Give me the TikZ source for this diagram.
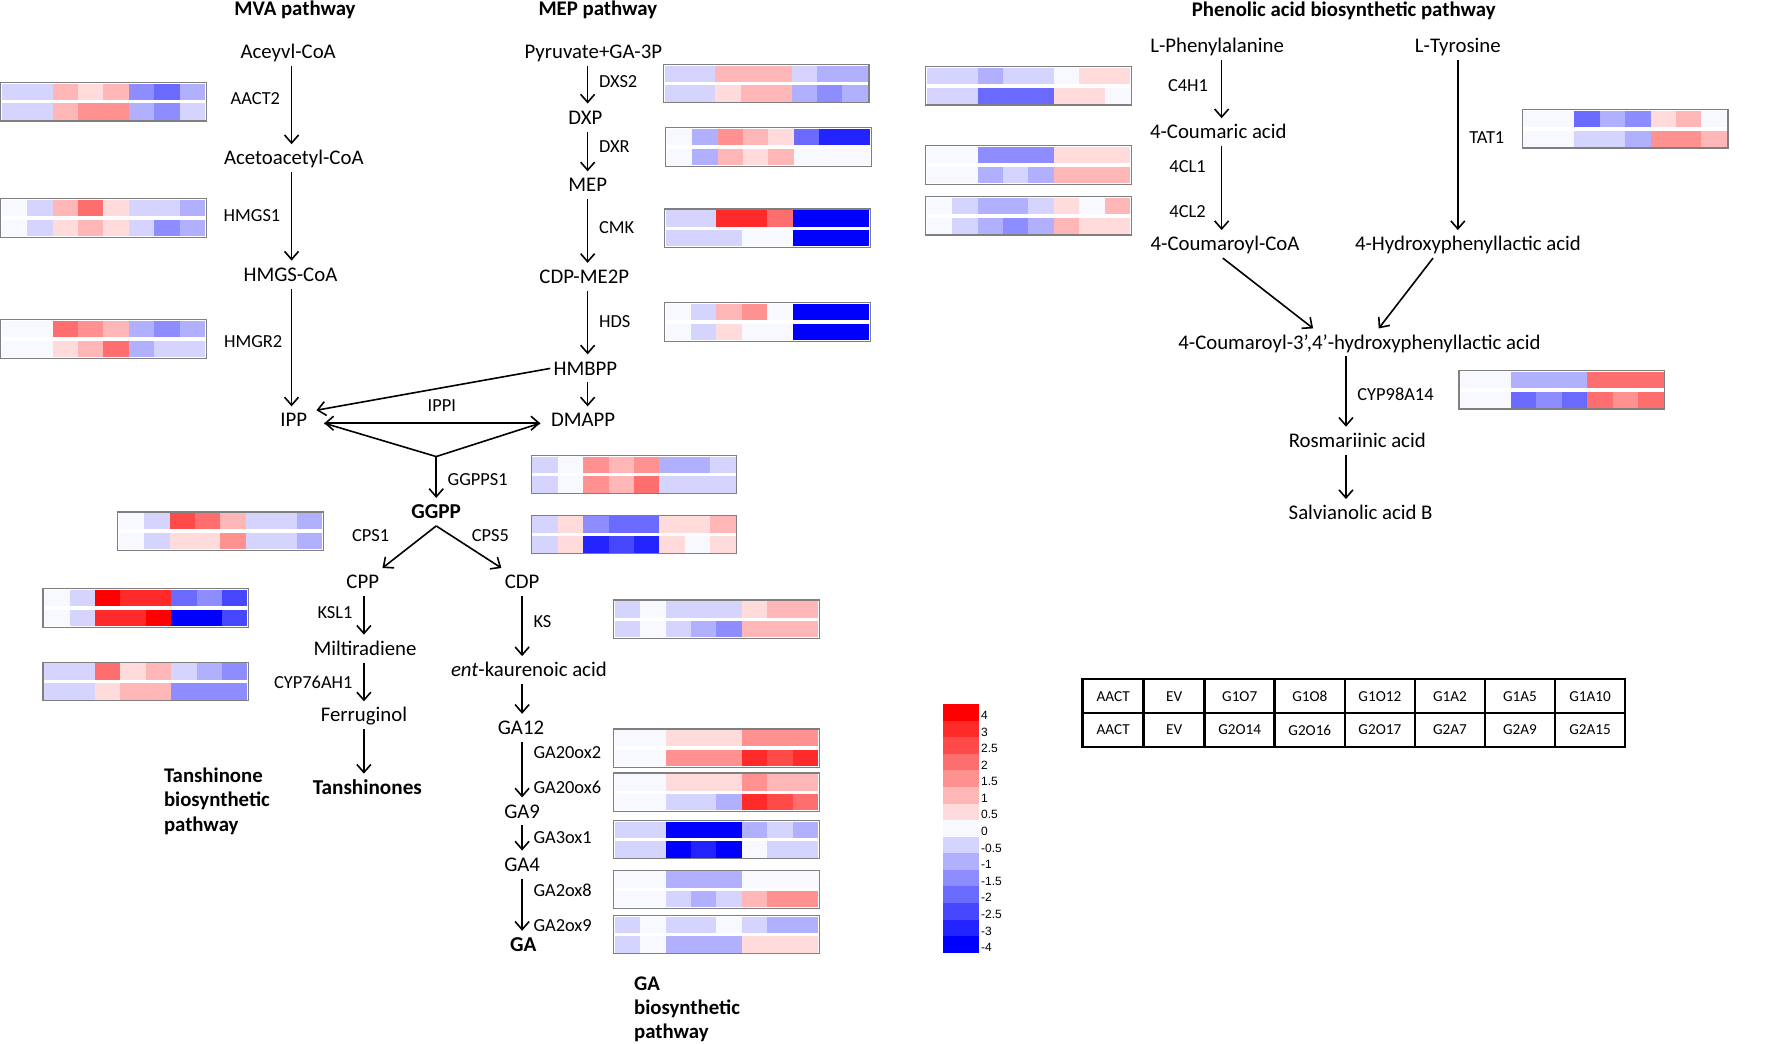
\documentclass[tikz,border=0pt]{standalone}
\usepackage{fontspec}
\setmainfont{Carlito}
\newfontfamily\legfont{Liberation Sans}
\usetikzlibrary{arrows.meta}
\definecolor{R8}{HTML}{FF0000}
\definecolor{R6}{HTML}{FF2A2A}
\definecolor{R5}{HTML}{FF4A4A}
\definecolor{R4}{HTML}{FF6E6E}
\definecolor{R3}{HTML}{FF9191}
\definecolor{R2}{HTML}{FFB6B6}
\definecolor{R1}{HTML}{FFDBDB}
\definecolor{Z}{HTML}{F8F8FF}
\definecolor{B1}{HTML}{D4D4FF}
\definecolor{B2}{HTML}{B0B0FF}
\definecolor{B3}{HTML}{8D8DFF}
\definecolor{B4}{HTML}{6A6AFF}
\definecolor{B5}{HTML}{4747FF}
\definecolor{B6}{HTML}{2323FF}
\definecolor{B8}{HTML}{0000FF}
\definecolor{hmgray}{HTML}{7F7F7F}
\newcommand\hmap[4]{%
  \foreach \hc [count=\hi from 0] in {#3} \fill[fill=\hc] ({#1+1+\hi*22.5},{#2+1}) rectangle ++(22.5,14.5);
  \foreach \hc [count=\hi from 0] in {#4} \fill[fill=\hc] ({#1+1+\hi*22.5},{#2+18.5}) rectangle ++(22.5,14.5);
  \draw[hmborder] (#1,#2) rectangle ++(182,34);
}
\tikzset{
  met/.style={font=\fontsize{10.4}{12}\selectfont, inner sep=1.5pt, text height=8.6pt, text depth=2pt},
  metb/.style={met, font=\bfseries\fontsize{10.6}{12}\selectfont},
  enz/.style={font=\fontsize{9.2}{11}\selectfont, inner sep=1pt},
  ttl/.style={font=\bfseries\fontsize{10.4}{12}\selectfont, inner sep=1pt},
  arr/.style={-{Straight Barb[length=4pt,width=7pt]}, line width=0.8pt},
  arrtwo/.style={{Straight Barb[length=4pt,width=7pt]}-{Straight Barb[length=4pt,width=7pt]}, line width=0.8pt},
  plain/.style={line width=0.8pt},
  hmborder/.style={draw=hmgray, line width=0.6pt},
  leg/.style={font=\legfont\fontsize{6}{7}\selectfont, inner sep=0.5pt},
  tbl/.style={line width=1.3pt},
  tcell/.style={font=\fontsize{7.6}{9}\selectfont, inner sep=0pt}
}
\begin{document}
\begin{tikzpicture}[x=0.5651pt,y=-0.5651pt]
\useasboundingbox (0,0) rectangle (1568,923);

% titles
\node[ttl] (mvat) at (261,9) {MVA pathway};
\node[ttl] (mept) at (529,9) {MEP pathway};
\node[ttl] (phent) at (1189,10) {Phenolic acid biosynthetic pathway};

% MVA pathway
\coordinate (mvax) at (258,0);
\node[met] (aceyvl) at (255,46) {Aceyvl-CoA};
\node[met] (acetoac) at (260,140) {Acetoacetyl-CoA};
\node[met] (hmgscoa) at (257,243) {HMGS-CoA};
\node[met] (ipp) at (260,372) {IPP};
\node[enz] (aact2) at (226,87) {AACT2};
\node[enz] (hmgs1) at (223,191) {HMGS1};
\node[enz] (hmgr2) at (224,302) {HMGR2};
\draw[arr] (aceyvl.south -| mvax) -- (acetoac.north -| mvax);
\draw[arr] (acetoac.south -| mvax) -- (hmgscoa.north -| mvax);
\draw[arr] (hmgscoa.south -| mvax) -- (ipp.north -| mvax);

% MEP pathway
\coordinate (mepx) at (520,0);
\node[met] (pyr) at (525,46) {Pyruvate+GA-3P};
\node[met] (dxp) at (518,104) {DXP};
\node[met] (mep) at (520,164) {MEP};
\node[met] (cdpme) at (517,245) {CDP-ME2P};
\node[met] (hmbpp) at (518,326) {HMBPP};
\node[met] (dmapp) at (516,372) {DMAPP};
\node[enz, anchor=west] (dxs2) at (528,72) {DXS2};
\node[enz, anchor=west] (dxr) at (528,130) {DXR};
\node[enz, anchor=west] (cmk) at (528,201) {CMK};
\node[enz, anchor=west] (hds) at (528,285) {HDS};
\draw[arr] (pyr.south -| mepx) -- (dxp.north -| mepx);
\draw[arr] (dxp.south -| mepx) -- (mep.north -| mepx);
\draw[arr] (mep.south -| mepx) -- (cdpme.north -| mepx);
\draw[arr] (cdpme.south -| mepx) -- (hmbpp.north -| mepx);
\draw[arr] (hmbpp.south -| mepx) -- (dmapp.north -| mepx);

% IPP / DMAPP / GGPP
\coordinate (ippE) at (287,374.5);
\coordinate (ippNE) at (280,363);
\coordinate (dmappW) at (478,374.5);
\coordinate (vj) at (386,404);
\node[enz] (ippi) at (391,359) {IPPI};
\draw[arr] (hmbpp.west) -- (ippNE);
\draw[arrtwo] (ippE) -- (dmappW);
\draw[plain] (ippE) -- (vj) -- (dmappW);
\node[metb] (ggpp) at (386,453) {GGPP};
\node[enz, anchor=west] (ggpps1) at (394,424) {GGPPS1};
\draw[arr] (vj) -- (ggpp.north);
\node[enz] (cps1) at (328,474) {CPS1};
\node[enz] (cps5) at (434,474) {CPS5};
\node[met] (cpp) at (321,515) {CPP};
\node[met] (cdp) at (462,515) {CDP};
\draw[arr] (ggpp.south) -- (cpp.north east);
\draw[arr] (ggpp.south) -- (cdp.north west);

% Tanshinone branch
\coordinate (tanx) at (322,0);
\node[met] (milt) at (323,574) {Miltiradiene};
\node[met] (ferr) at (322,633) {Ferruginol};
\node[metb] (tansh) at (325,697) {Tanshinones};
\node[enz, anchor=east] (ksl1) at (314,542) {KSL1};
\node[enz, anchor=east] (cyp76) at (314,604) {CYP76AH1};
\draw[arr] (cpp.south -| tanx) -- (milt.north -| tanx);
\draw[arr] (milt.south -| tanx) -- (ferr.north -| tanx);
\draw[arr] (ferr.south -| tanx) -- (tansh.north -| tanx);
\node[ttl, align=left, anchor=west, font=\bfseries\fontsize{10.4}{12.4}\selectfont] (tanlab) at (143,709) {Tanshinone\\biosynthetic\\pathway};

% GA branch
\coordinate (gax) at (462,0);
\node[met] (entk) at (468,593) {\textit{ent}-kaurenoic acid};
\node[met] (ga12) at (461,644) {GA12};
\node[met] (ga9) at (462,718) {GA9};
\node[met] (ga4) at (462,765) {GA4};
\node[metb] (ga) at (463,836) {GA};
\node[enz, anchor=west] (ks) at (470,550) {KS};
\node[enz, anchor=west] (ga20ox2) at (470,666) {GA20ox2};
\node[enz, anchor=west] (ga20ox6) at (470,697) {GA20ox6};
\node[enz, anchor=west] (ga3ox1) at (470,741) {GA3ox1};
\node[enz, anchor=west] (ga2ox8) at (470,788) {GA2ox8};
\node[enz, anchor=west] (ga2ox9) at (470,819) {GA2ox9};
\draw[arr] (cdp.south -| gax) -- (entk.north -| gax);
\draw[arr] (entk.south -| gax) -- (ga12.north -| gax);
\draw[arr] (ga12.south -| gax) -- (ga9.north -| gax);
\draw[arr] (ga9.south -| gax) -- (ga4.north -| gax);
\draw[arr] (ga4.south -| gax) -- (ga.north -| gax);
\node[ttl, align=left, anchor=west, font=\bfseries\fontsize{10.4}{12.15}\selectfont] (galab) at (559,893) {GA\\biosynthetic\\pathway};

% Phenolic acid pathway
\coordinate (phx) at (1081,0);
\coordinate (tyrx) at (1290,0);
\coordinate (rosx) at (1191,0);
\node[met] (lphe) at (1077,41) {L-Phenylalanine};
\node[met] (ltyr) at (1290,41) {L-Tyrosine};
\node[met] (coum) at (1078,117) {4-Coumaric acid};
\node[met] (coumcoa) at (1084,216) {4-Coumaroyl-CoA};
\node[met] (hpla) at (1299,216) {4-Hydroxyphenyllactic acid};
\node[met] (cphl) at (1203,303) {4-Coumaroyl-3’,4’-hydroxyphenyllactic acid};
\node[met] (rosm) at (1201,390) {Rosmariinic acid};
\node[met] (salb) at (1204,454) {Salvianolic acid B};
\node[enz, anchor=east] (c4h1) at (1071,76) {C4H1};
\node[enz, anchor=east] (cl1) at (1069,147) {4CL1};
\node[enz, anchor=east] (cl2) at (1069,187) {4CL2};
\node[enz, anchor=west] (tat1) at (1298,122) {TAT1};
\node[enz, anchor=west] (cyp98) at (1199,349) {CYP98A14};
\draw[arr] (lphe.south -| phx) -- (coum.north -| phx);
\draw[arr] (coum.south -| phx) -- (coumcoa.north -| phx);
\draw[arr] (ltyr.south -| tyrx) -- (hpla.north -| tyrx);
\draw[arr] ([xshift=-1.1pt]coumcoa.south) -- ([xshift=-23.2pt]cphl.north);
\draw[arr] ([xshift=-17.5pt]hpla.south) -- ([xshift=9.6pt]cphl.north);
\draw[arr] (cphl.south -| rosx) -- (rosm.north -| rosx);
\draw[arr] (rosm.south -| rosx) -- (salb.north -| rosx);

% heatmaps
\hmap{0.5}{73}{B1,B1,R2,R1,R2,B3,B4,B2}{B1,B1,R2,R3,R3,B2,B3,B1}
\hmap{0.5}{176}{Z,B1,R2,R4,R1,B1,B1,B2}{Z,B1,R1,R2,R1,B1,B3,B2}
\hmap{0.5}{283}{Z,Z,R4,R3,R2,B2,B3,B2}{Z,Z,R1,R2,R4,B2,B1,B1}
\hmap{587}{57}{B1,B1,R2,R2,R2,B1,B2,B2}{B1,B1,R1,R2,R2,B2,B3,B2}
\hmap{589}{113}{Z,B2,R3,R2,R1,B4,B6,B6}{Z,B2,R2,R1,R2,Z,Z,Z}
\hmap{588}{185}{B1,B1,R6,R6,R4,B8,B8,B8}{B1,B1,B1,Z,Z,B8,B8,B8}
\hmap{588}{268}{Z,B1,R2,R3,Z,B8,B8,B8}{Z,B1,R1,Z,Z,B8,B8,B8}
\hmap{819}{59}{B1,B1,B2,B1,B1,Z,R1,R1}{B1,B1,B4,B4,B4,R1,R1,Z}
\hmap{819}{129}{Z,Z,B3,B3,B3,R1,R1,R1}{Z,Z,B2,B1,B2,R2,R2,R2}
\hmap{819}{174}{Z,B1,B2,B2,B1,R1,Z,R2}{Z,B1,B2,B3,B2,R2,R1,R1}
\hmap{1347}{97}{Z,Z,B4,B2,B3,R1,R2,Z}{Z,Z,B1,B1,B2,R3,R3,R2}
\hmap{1291}{328}{Z,Z,B2,B2,B2,R4,R4,R4}{Z,Z,B4,B3,B4,R4,R3,R4}
\hmap{470}{403}{B1,Z,R3,R2,R3,B2,B2,B1}{B1,Z,R3,R2,R4,B1,B1,B1}
\hmap{470}{456}{B1,R1,B3,B4,B4,R1,R1,R2}{B1,R1,B6,B5,B6,R1,Z,R1}
\hmap{104}{453}{Z,B1,R5,R4,R2,B1,B1,B2}{Z,B1,R1,R1,R3,B1,B1,B2}
\hmap{38}{521}{Z,B1,R8,R6,R6,B4,B3,B5}{Z,B1,R6,R6,R8,B8,B8,B5}
\hmap{38}{586}{B1,B1,R4,R1,R2,B1,B2,B3}{B1,B1,R1,R2,R2,B3,B3,B3}
\hmap{543}{531}{B1,Z,B1,B1,B1,R1,R2,R2}{B1,Z,B1,B2,B3,R2,R2,R2}
\hmap{543}{645}{Z,Z,R1,R1,R1,R3,R3,R3}{Z,Z,R3,R3,R3,R6,R5,R6}
\hmap{543}{684}{Z,Z,R1,R1,R1,R3,R2,R2}{Z,Z,B1,B1,B2,R6,R5,R4}
\hmap{543}{726}{B1,B1,B8,B8,B8,B2,B1,B2}{B1,B1,B8,B6,B8,Z,B1,B1}
\hmap{543}{770}{Z,Z,B2,B2,B2,Z,Z,Z}{Z,Z,B1,B2,B1,R2,R3,R3}
\hmap{543}{810}{B1,Z,B1,B1,Z,B1,B2,B2}{B1,Z,B2,B2,B2,R1,R1,R1}

% legend
\foreach \hc/\hlab [count=\hi from 0] in {R8/4,R6/3,R5/2.5,R4/2,R3/1.5,R2/1,R1/0.5,Z/0,B1/-0.5,B2/-1,B3/-1.5,B4/-2,B5/-2.5,B6/-3,B8/-4} {
  \fill[fill=\hc] (834,{623+\hi*14.67}) rectangle ++(32,14.9);
  \node[leg, anchor=west] (leg\hi) at (867,{623+\hi*14.67+10}) {\hlab};
}

% sample table
\draw[tbl] (958,601) rectangle (1438,661);
\draw[tbl] (958,631) -- (1438,631);
\foreach \hx in {1012,1066,1128,1190,1252,1314,1376} \draw[tbl] (\hx,601) -- (\hx,661);
\foreach \hx/\tlab [count=\hi] in {985/AACT,1039/EV,1097/G1O7,1159/G1O8,1221/G1O12,1283/G1A2,1345/G1A5,1407/G1A10}
  \node[tcell] (ta\hi) at (\hx,616) {\tlab};
\foreach \hx/\tlab [count=\hi] in {985/AACT,1039/EV,1097/G2O14,1159/G2O16,1221/G2O17,1283/G2A7,1345/G2A9,1407/G2A15}
  \node[tcell] (tb\hi) at (\hx,646) {\tlab};
\end{tikzpicture}
\end{document}
